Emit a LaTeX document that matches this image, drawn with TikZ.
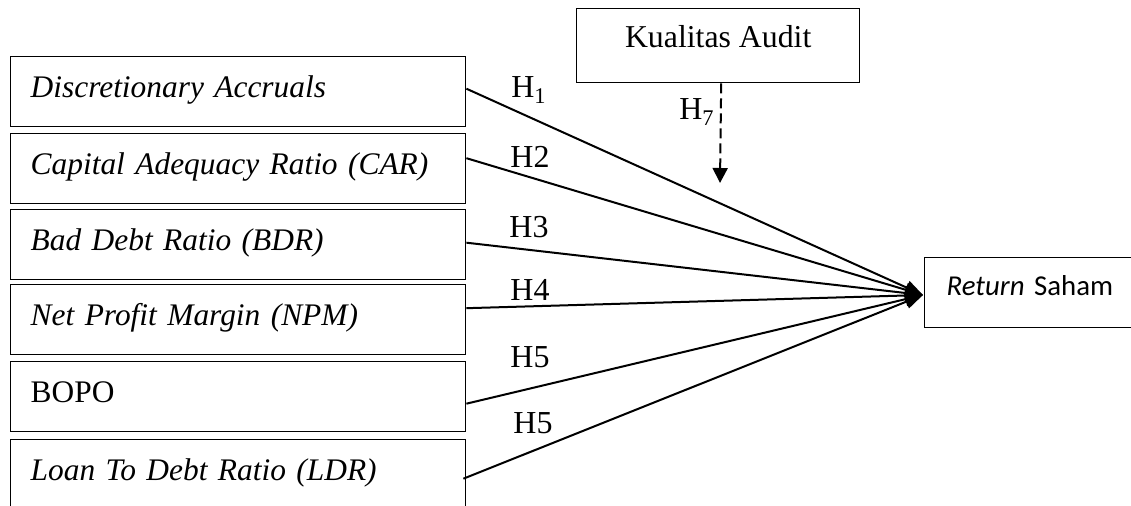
\documentclass[tikz,border=0pt]{standalone}
\usepackage{fontspec}
\setmainfont{Liberation Serif}
\newfontfamily\calibri{Carlito}
\usetikzlibrary{arrows.meta,calc}

\begin{document}
\begin{tikzpicture}[x=0.5pt,y=-0.5pt,
    varbox/.style={draw, line width=0.7pt, anchor=north west, inner ysep=0pt, inner xsep=10pt, text width=207.5pt, align=left, text height=20.5pt, text depth=14.5pt, font=\fontsize{15.7}{18}\selectfont},
    hlabel/.style={inner sep=0pt, font=\fontsize{16}{18}\selectfont},
    hypo/.style={line width=1pt, -{Triangle[length=9pt,width=7pt]}},
    ]
    \useasboundingbox (0,0) rectangle (1131,506);
    \clip (0,0) rectangle (1131,506);

    % independent variables
    \node [varbox] (da) at (10,56) {\textit{Discretionary Accruals}};
    \node [varbox] (car) at (10,133) {\textit{Capital Adequacy Ratio (CAR)}};
    \node [varbox] (bdr) at (10,209) {\textit{Bad Debt Ratio (BDR)}};
    \node [varbox] (npm) at (10,284) {\textit{Net Profit Margin (NPM)}};
    \node [varbox] (bopo) at (10,361) {BOPO};
    \node [varbox] (ldr) at (10,439) {\textit{Loan To Debt Ratio (LDR)}};

    % moderating and dependent variable
    \node [draw, line width=0.7pt, anchor=north west, inner ysep=0pt, minimum width=141.5pt, text height=19.5pt, text depth=17.5pt, font=\fontsize{15.9}{18}\selectfont] (ka) at (576,8) {Kualitas Audit};
    \node [draw, line width=0.7pt, anchor=north west, inner ysep=0pt, inner xsep=11pt, text width=120pt, align=left, text height=19pt, text depth=16pt, font=\calibri\fontsize{14.4}{16}\selectfont] (ret) at (924,257) {\textit{Return} Saham};

    \coordinate (tip) at (923,295);
    \coordinate (mod) at (720,183);

    \draw [hypo] ($(da.east)+(0,-3)$) -- (tip);
    \draw [hypo] ($(car.east)+(0,-10.5)$) -- (tip);
    \draw [hypo] ($(bdr.east)+(0,-2)$) -- (tip);
    \draw [hypo] ($(npm.east)+(0,-11.5)$) -- (tip);
    \draw [hypo] ($(bopo.east)+(0,7)$) -- (tip);
    \draw [hypo] ($(ldr.east)+(-3,4)$) -- (tip);
    \draw [line width=1pt, dash pattern=on 5pt off 2.5pt, -{Triangle[length=7.5pt,width=7.5pt]}] ($(ka.south)+(3,0)$) -- (mod);

    % labels
    \node [hlabel] (h1) at (529,90) {H\textsubscript{1}};
    \node [hlabel] (h2) at (530,157) {H2};
    \node [hlabel] (h3) at (529,227) {H3};
    \node [hlabel] (h4) at (530,290) {H4};
    \node [hlabel] (h5) at (530,357) {H5};
    \node [hlabel] (h6) at (533,423) {H5};
    \node [hlabel] (h7) at (697,112) {H\textsubscript{7}};
\end{tikzpicture}
\end{document}
